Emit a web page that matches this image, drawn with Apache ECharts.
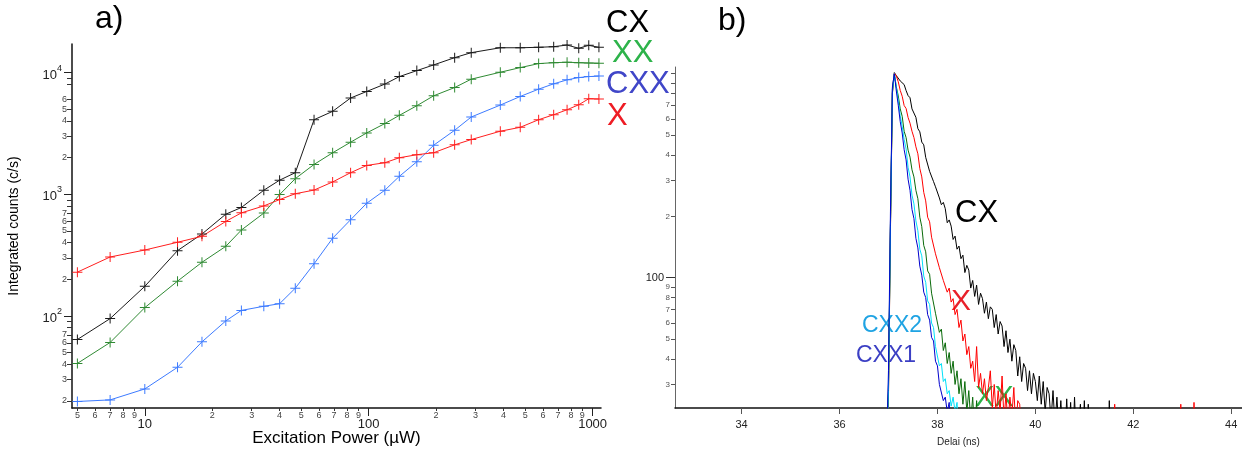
<!DOCTYPE html>
<html><head><meta charset="utf-8">
<script src="https://cdn.jsdelivr.net/npm/echarts@6/dist/echarts.min.js"></script>
<style>html,body{margin:0;padding:0;background:#fff}#c{width:1242px;height:452px}</style>
</head><body><div id="c"></div>
<script>
// ---------- Panel a): integrated counts vs excitation power ----------
const powerUW   = [5,7,10,14,18,23,27,34,40,47,57,69,83,98,118,137,164,195,242,287,387,475,574,670,769,867,961,1067];
const countsCX  = [64,95,175,344,471,686,778,1079,1305,1504,4100,4800,6180,7000,8040,9270,10380,11560,13270,14580,16000,16000,16140,16330,16840,15850,16740,16140];
const countsXX  = [40.7,60.5,117,193,276,373,508,700,993,1343,1758,2192,2678,3194,3808,4450,5342,6446,7534,8830,10070,10990,11850,12070,12160,12070,11990,11930];
const countsCXX = [19.8,20.4,25.1,37.8,61.2,91,111,120,126,169,268,435,617,844,1079,1403,1849,2529,3356,4316,5406,6364,7313,8085,8713,9097,9270,9360];
const countsX   = [229,305,348,403,451,598,703,802,904,1010,1082,1262,1504,1726,1816,1995,2113,2194,2548,2816,3296,3550,4100,4506,4950,5440,6095,6070];
const powerTicks = [5,6,7,8,9,10,20,30,40,50,60,70,80,90,100,200,300,400,500,600,700,800,900,1000];
const powerMajor = [10,100,1000];
const countTicks = [20,30,40,50,60,70,80,90,200,300,400,500,600,700,800,900,2000,3000,4000,5000,6000,7000,8000,9000];
const countLabels = [20,30,40,50,60,70,200,300,400,500,600,700,2000,3000,4000,5000,6000,7000];
const countMajor = [100,1000,10000];

// ---------- Panel b): normalized decays vs delay ----------
const delayNs = [36.96,37.00,37.04,37.08,37.12,37.16,37.20,37.24,37.28,37.32,
  37.36,37.40,37.44,37.48,37.52,37.56,37.60,37.64,37.68,37.72,
  37.76,37.80,37.84,37.88,37.92,37.96,38.00,38.04,38.08,38.12,
  38.16,38.20,38.24,38.28,38.32,38.36,38.40,38.44,38.48,38.52,
  38.56,38.60,38.64,38.68,38.72,38.76,38.80,38.84,38.88,38.92,
  38.96,39.00,39.04,39.08,39.12,39.16,39.20,39.24,39.28,39.32,
  39.36,39.40,39.44,39.48,39.52,39.56,39.60,39.64,39.68,39.72,
  39.76,39.80,39.84,39.88,39.92,39.96,40.00,40.04,40.08,40.12,
  40.16,40.20,40.24,40.28,40.32,40.36,40.40,40.44,40.48,40.52,
  40.56,40.60,40.64,40.68,40.72,40.76,40.80,40.84,40.88,40.92,
  40.96,41.00,41.04,41.08,41.12];
const decayCX = [14,30,185,840,1012,978,972,921,915,884,
  826,781,762,672,659,611,538,519,462,448,
  389,385,332,337,296,279,283,246,228,234,
  218,186,192,179,154,160,138,143,124,129,
  106,115,109,89,97,81,92,74,84,79,
  67,76,63,72,70,57,66,53,61,58,
  46,55,43,50,39,47,44,33,41,31,
  38,36,28,35,27,34,31,25,33,24,
  31,22,29,27,20,28,19,26,18,25,
  17,16,25.5,16,24.5,15,26,15,15,24,
  14,25,14,24,14];
const decayX = [14,26,170,810,1005,975,912,828,775,698,
  675,610,572,522,486,438,405,343,312,262,
  238,198,188,158,155,131,130,112,114,97,
  99,85,89,76,79,66,70,57,62,49,
  53,42,46,36,39,31,46,29,34,27,
  32,25,29,35,23,30,21,28,22,33,
  20,27,19,26,21,29,18,25,24,16,15];
const decayXX = [14,27,175,800,995,862,778,672,618,522,
  486,422,390,338,312,268,244,198,178,144,
  134,108,104,84,83,67,68,54,56,44,
  48,38,43,34,39,30,35,27,32,24,
  31,22,28,20,26,17,25,16,15];
const decayCXX2 = [14,28,180,820,1000,855,738,622,552,476,
  428,348,312,254,230,190,170,138,128,102,
  95,77,74,60,57,46,46,37,38,31,
  32,27,28,23.5,26,22,24.5,16];
const decayCXX1 = [14,35,210,860,998,822,700,582,512,424,
  378,304,268,216,195,156,140,114,103,85,
  80,66,62,51,49,39,37,30,30,25,
  26,22,24.5,16];
const tailCXt = [41.49,41.51,41.53];
const tailCXv = [14,25,14];
const tailXt = [41.60,41.62,41.64,42.95,42.97,42.99,43.22,43.24,43.26];
const tailXv = [14,24,14,14,24,14,14,24.5,14];
const delayTicks = [34,36,38,40,42,44];
const decayTicks = [30,40,50,60,70,80,90,200,300,400,500,600,700,800,900,1000];
const decayLabels = [30,40,50,60,70,80,90,200,300,400,500,600,700];
const decayMajor = [100];

// ---------- helpers ----------
const FONT = '"Liberation Sans", Arial, Helvetica, sans-serif';
const lg = v => Math.log10(v);
const digit = v => { const e = Math.floor(v + 1e-9); return String(Math.round(Math.pow(10, v) / Math.pow(10, e))); };
const whole = v => String(Math.round(Math.pow(10, v)));
const PLUS = 'path://M4.5,0H5.5V4.5H10V5.5H5.5V10H4.5V5.5H0V4.5H4.5Z';

function loglog(xs, ys) { return ys.map((y, i) => [lg(xs[i]), lg(y)]); }
function linlog(xs, ys) { return ys.map((y, i) => [xs[i], lg(y)]); }

function leftSeries(name, ys, color) {
  return { name, type: 'line', xAxisIndex: 0, yAxisIndex: 0, data: loglog(powerUW, ys),
    symbol: PLUS, symbolSize: 10, lineStyle: { color, width: 1 }, itemStyle: { color },
    silent: true, z: 3 };
}
function rightSeries(name, data, color) {
  return { name, type: 'line', xAxisIndex: 2, yAxisIndex: 2, data, symbol: 'none', clip: true,
    lineStyle: { color, width: 1 }, itemStyle: { color }, silent: true, z: 3 };
}

const axLine = { show: true, lineStyle: { color: '#111', width: 1.5 } };
const axLineGray = { show: true, lineStyle: { color: '#666', width: 1 } };
const minorPower = powerTicks.filter(v => !powerMajor.includes(v));

const option = {
  animation: false,
  backgroundColor: '#fff',
  textStyle: { fontFamily: FONT },
  grid: [
    { left: 72, top: 44, width: 529, height: 366, containLabel: false },
    { left: 675, top: 67, right: 0, height: 346, containLabel: false }
  ],
  xAxis: [
    { type: 'value', gridIndex: 0, position: 'bottom', min: lg(4.73), max: lg(1090),
      axisLine: axLine,
      axisTick: { show: true, customValues: minorPower.map(lg), length: 3, lineStyle: { color: '#333' } },
      axisLabel: { customValues: minorPower.map(lg), formatter: digit, fontSize: 9, color: '#444', margin: 3 },
      splitLine: { show: false },
      name: 'Excitation Power (\u00b5W)', nameLocation: 'middle', nameGap: 22,
      nameTextStyle: { fontSize: 17, color: '#000', fontFamily: FONT } },
    { type: 'value', gridIndex: 0, position: 'bottom', min: lg(4.73), max: lg(1090),
      axisLine: { show: false },
      axisTick: { show: true, customValues: powerMajor.map(lg), length: 8, lineStyle: { color: '#222' } },
      axisLabel: { customValues: powerMajor.map(lg), formatter: whole, fontSize: 13, color: '#222', margin: 10 },
      splitLine: { show: false } },
    { type: 'value', gridIndex: 1, position: 'bottom', min: 32.64, max: 44.22,
      axisLine: axLine,
      axisTick: { show: true, customValues: delayTicks, length: 6, lineStyle: { color: '#555' } },
      axisLabel: { customValues: delayTicks, fontSize: 11, color: '#222', margin: 11 },
      splitLine: { show: false },
      name: 'Delai (ns)', nameLocation: 'middle', nameGap: 29,
      nameTextStyle: { fontSize: 10, color: '#222', fontFamily: FONT } }
  ],
  yAxis: [
    { type: 'value', gridIndex: 0, position: 'left', min: lg(17.5), max: lg(17180),
      axisLine: axLine,
      axisTick: { show: true, customValues: countTicks.map(lg), length: 5, lineStyle: { color: '#333' } },
      axisLabel: { customValues: countLabels.map(lg), formatter: digit, fontSize: 9, color: '#444', margin: 5 },
      splitLine: { show: false },
      name: 'Integrated counts (c/s)', nameLocation: 'middle', nameGap: 51,
      nameTextStyle: { fontSize: 14, color: '#000', fontFamily: FONT } },
    { type: 'value', gridIndex: 0, position: 'left', min: lg(17.5), max: lg(17180),
      axisLine: { show: false },
      axisTick: { show: true, customValues: countMajor.map(lg), length: 8, lineStyle: { color: '#222' } },
      axisLabel: { customValues: countMajor.map(lg), margin: 10, color: '#222',
        formatter: v => '{b|10}{s|' + Math.round(v) + '}',
        rich: { b: { fontSize: 13, color: '#222', verticalAlign: 'bottom', lineHeight: 18, fontFamily: FONT },
                s: { fontSize: 9, color: '#222', verticalAlign: 'top', lineHeight: 18, fontFamily: FONT } } },
      splitLine: { show: false } },
    { type: 'value', gridIndex: 1, position: 'left', min: lg(23), max: lg(1078),
      axisLine: axLineGray,
      axisTick: { show: true, customValues: decayTicks.map(lg), length: 4, lineStyle: { color: '#555' } },
      axisLabel: { customValues: decayLabels.map(lg), formatter: digit, fontSize: 8, color: '#555', margin: 5 },
      splitLine: { show: false } },
    { type: 'value', gridIndex: 1, position: 'left', min: lg(23), max: lg(1078),
      axisLine: { show: false },
      axisTick: { show: true, customValues: decayMajor.map(lg), length: 9, lineStyle: { color: '#333' } },
      axisLabel: { customValues: decayMajor.map(lg), formatter: whole, fontSize: 11, color: '#222', margin: 11 },
      splitLine: { show: false } }
  ],
  series: [
    leftSeries('CX', countsCX, '#1a1a1a'),
    leftSeries('XX', countsXX, '#2f8a33'),
    leftSeries('CXX', countsCXX, '#3d7bff'),
    leftSeries('X', countsX, '#ff1f1f'),
    rightSeries('CX decay', linlog(delayNs, decayCX).concat(linlog(tailCXt, tailCXv)), '#000000'),
    rightSeries('X decay', linlog(delayNs, decayX).concat(linlog(tailXt, tailXv)), '#ff0000'),
    rightSeries('XX decay', linlog(delayNs, decayXX), '#0a6a0a'),
    rightSeries('CXX2 decay', linlog(delayNs, decayCXX2), '#00e0f8'),
    rightSeries('CXX1 decay', linlog(delayNs, decayCXX1), '#0000cc')
  ],
  graphic: [
    { type: 'text', x: 95, y: 19, style: { text: 'a)', fill: '#000', fontSize: 32, fontFamily: FONT, verticalAlign: 'middle' } },
    { type: 'text', x: 718, y: 21, style: { text: 'b)', fill: '#000', fontSize: 32, fontFamily: FONT, verticalAlign: 'middle' } },
    { type: 'text', x: 606, y: 23, style: { text: 'CX', fill: '#000', fontSize: 31, fontFamily: FONT, verticalAlign: 'middle' } },
    { type: 'text', x: 612, y: 53, style: { text: 'XX', fill: '#2db34a', fontSize: 31, fontFamily: FONT, verticalAlign: 'middle' } },
    { type: 'text', x: 606, y: 84, style: { text: 'CXX', fill: '#4046c8', fontSize: 31, fontFamily: FONT, verticalAlign: 'middle' } },
    { type: 'text', x: 607, y: 116, style: { text: 'X', fill: '#ee1c24', fontSize: 31, fontFamily: FONT, verticalAlign: 'middle' } },
    { type: 'text', x: 955, y: 213, style: { text: 'CX', fill: '#000', fontSize: 31, fontFamily: FONT, verticalAlign: 'middle' } },
    { type: 'text', x: 951, y: 302, style: { text: 'X', fill: '#e8202a', fontSize: 30, fontFamily: FONT, verticalAlign: 'middle' } },
    { type: 'text', x: 975, y: 398, style: { text: 'XX', fill: '#2db34a', fontSize: 29, fontFamily: FONT, verticalAlign: 'middle' } },
    { type: 'text', x: 862, y: 326, style: { text: 'CXX2', fill: '#1fa3e3', fontSize: 23, fontFamily: FONT, verticalAlign: 'middle' } },
    { type: 'text', x: 856, y: 356, style: { text: 'CXX1', fill: '#3b3fc4', fontSize: 23, fontFamily: FONT, verticalAlign: 'middle' } }
  ]
};

const chart = echarts.init(document.getElementById('c'), null, { renderer: 'canvas' });
chart.setOption(option);
</script>
</body></html>
